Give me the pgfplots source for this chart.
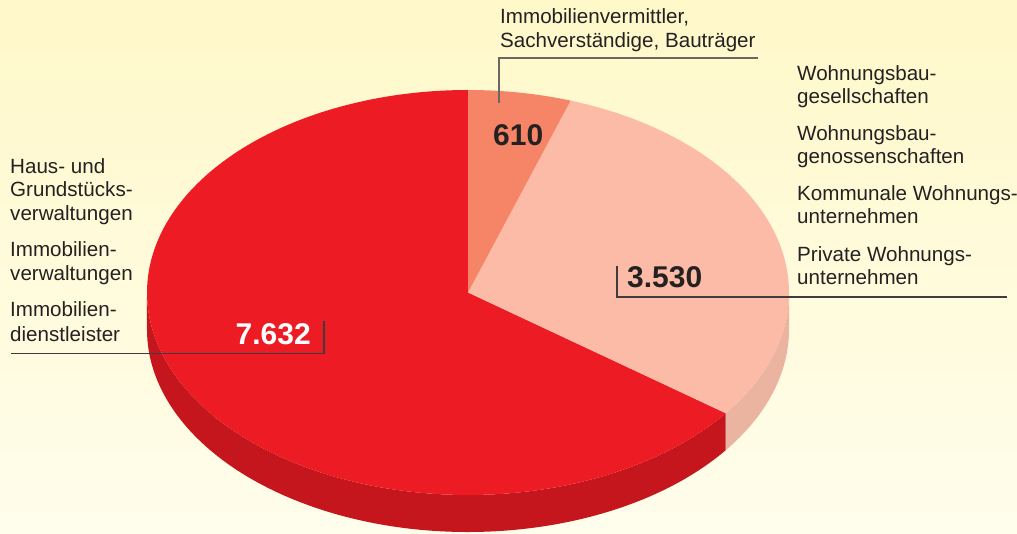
\documentclass[border=0pt]{standalone}
\usepackage{pgfplots}
\pgfplotsset{compat=1.18}
\usepackage{pgfplotstable}
\usepackage{fontspec}
\setmainfont{Liberation Sans}
\definecolor{bgtop}{HTML}{FFF8C9}
\definecolor{bgbot}{HTML}{FFFDEC}
\definecolor{cred}{HTML}{ED1C24}
\definecolor{creddark}{HTML}{C4161C}
\definecolor{csalmon}{HTML}{F58566}
\definecolor{cpink}{HTML}{FBBBA6}
\definecolor{cpinkdark}{HTML}{EBB4A0}
\definecolor{ctext}{HTML}{252122}
\definecolor{cline}{HTML}{3F3D3B}
\definecolor{clinelight}{HTML}{6A6760}

\pgfplotstableread{
segment value
makler 610
wohnung 3530
haus 7632
}\pietable

\begin{document}
\begin{tikzpicture}
\pgfplotstablegetelem{0}{value}\of\pietable \let\va\pgfplotsretval
\pgfplotstablegetelem{1}{value}\of\pietable \let\vb\pgfplotsretval
\pgfplotstablegetelem{2}{value}\of\pietable \let\vc\pgfplotsretval
\pgfmathsetmacro{\tot}{\va+\vb+\vc}
\pgfmathsetmacro{\fa}{\va/\tot}
\pgfmathsetmacro{\fb}{\vb/\tot}
\pgfmathsetmacro{\fc}{\vc/\tot}
\pgfmathsetmacro{\aA}{90}
\pgfmathsetmacro{\aB}{90-360*\fa}
\pgfmathsetmacro{\aC}{\aB-360*\fb}
\pgfmathsetmacro{\aD}{\aC-360*\fc}
\fill[top color=bgtop, bottom color=bgbot] (0,0) rectangle (1017pt,534pt);
\begin{axis}[scale only axis, width=1017pt, height=534pt,
  xmin=0, xmax=1017, ymin=0, ymax=534, hide axis, clip=false, set layers]
% sides
\addplot[draw=none, fill=cpinkdark, domain=\aC:0, samples=60] ({468+321*cos(x)},{241.5+202.5*sin(x)})
   -- ++(0pt,-37pt) arc[start angle=0, end angle=\aC, x radius=321pt, y radius=202.5pt] -- cycle;
\addplot[draw=none, fill=creddark, domain=-180:\aC, samples=150] ({468+321*cos(x)},{241.5+202.5*sin(x)})
   -- ++(0pt,-37pt) arc[start angle=\aC, end angle=-180, x radius=321pt, y radius=202.5pt] -- cycle;
% top faces
\addplot[draw=none, fill=cred, domain=\aD:\aC, samples=200] ({468+321*cos(x)},{241.5+202.5*sin(x)}) -- (axis cs:468,241.5) -- cycle;
\addplot[draw=none, fill=cpink, domain=\aC:\aB, samples=100] ({468+321*cos(x)},{241.5+202.5*sin(x)}) -- (axis cs:468,241.5) -- cycle;
\addplot[draw=none, fill=csalmon, domain=\aB:\aA, samples=40] ({468+321*cos(x)},{241.5+202.5*sin(x)}) -- (axis cs:468,241.5) -- cycle;
\begin{pgfonlayer}{axis foreground}
% leader lines
\draw[clinelight, line width=1.4pt] (axis cs:499,431) -- (axis cs:499,476) -- (axis cs:758,476);
\draw[cline, line width=1.5pt] (axis cs:617,268) -- (axis cs:617,237) -- (axis cs:1007,237);
\draw[cline, line width=1.5pt] (axis cs:324,213) -- (axis cs:324,180.5) -- (axis cs:11,180.5);
% value labels
\begin{scope}[every node/.style={inner sep=0pt, font=\fontsize{30}{34}\selectfont\bfseries}]
\node[anchor=base west, text=ctext] at (axis cs:493,388) {610};
\node[anchor=base west, text=ctext] at (axis cs:627,246) {3.530};
\node[anchor=base east, text=white] at (axis cs:311,189) {7.632};
\end{scope}
% category labels
\begin{scope}[every node/.style={inner sep=0pt, anchor=base west, text=ctext, font=\fontsize{20.6}{24}\selectfont}]
\node at (axis cs:500,510) {Immobilienvermittler,};
\node at (axis cs:500,486) {Sachverständige, Bauträger};
\node at (axis cs:797,453) {Wohnungsbau-};
\node at (axis cs:797,430) {gesellschaften};
\node at (axis cs:797,393) {Wohnungsbau-};
\node at (axis cs:797,370) {genossenschaften};
\node at (axis cs:797,333) {Kommunale Wohnungs-};
\node at (axis cs:797,310) {unternehmen};
\node at (axis cs:797,272.5) {Private Wohnungs-};
\node at (axis cs:797,249.5) {unternehmen};
\node at (axis cs:10,360) {Haus- und};
\node at (axis cs:10,337) {Grundstücks-};
\node at (axis cs:10,313.5) {verwaltungen};
\node at (axis cs:10,277) {Immobilien-};
\node at (axis cs:10,253.5) {verwaltungen};
\node at (axis cs:10,217) {Immobilien-};
\node at (axis cs:10,192) {dienstleister};
\end{scope}
\end{pgfonlayer}
\end{axis}
\pgfresetboundingbox
\useasboundingbox (0,0) rectangle (1017pt,534pt);
\end{tikzpicture}
\end{document}
